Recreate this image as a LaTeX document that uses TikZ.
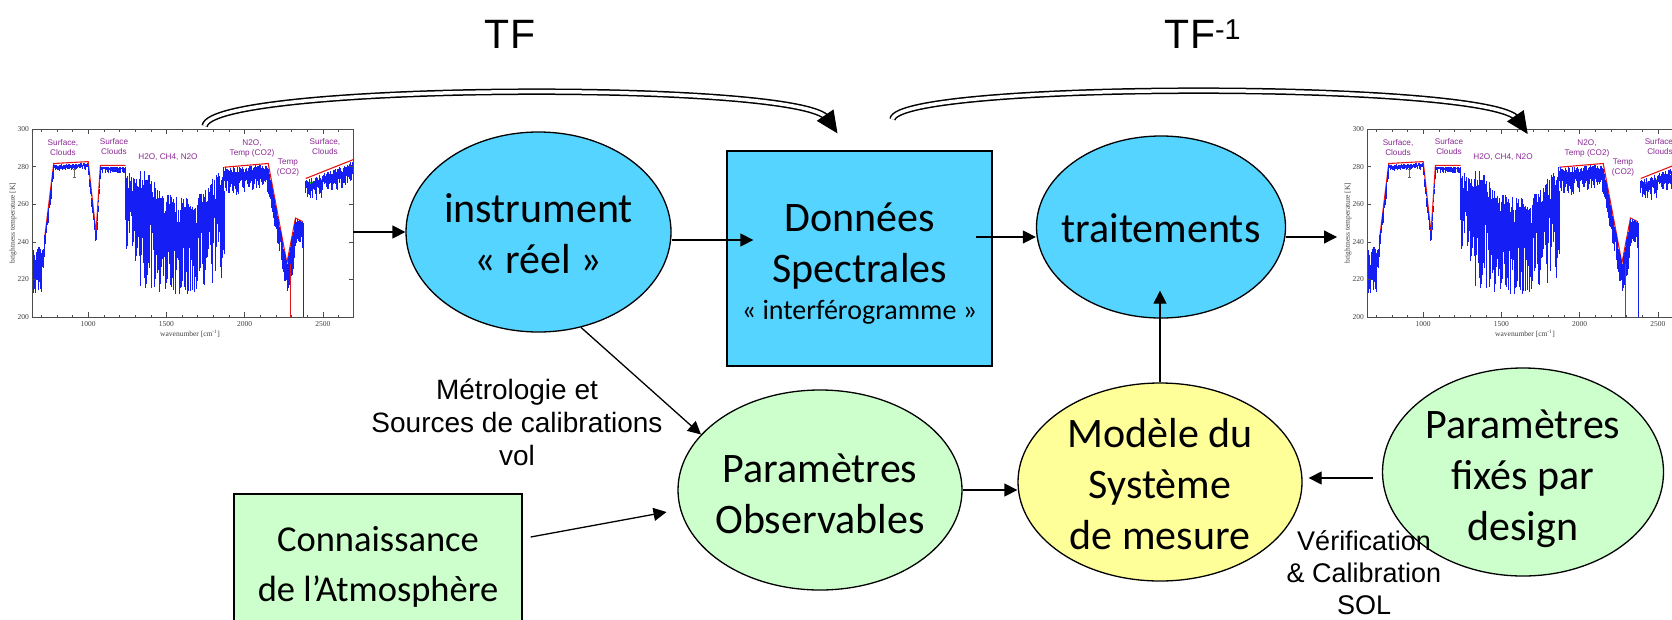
\documentclass[tikz,border=0pt]{standalone}
\usepackage{fontspec}
\setmainfont{Carlito}
\newfontfamily\arialf{Liberation Sans}
\newfontfamily\timesf{Liberation Serif}
\usetikzlibrary{arrows.meta,shapes.geometric,calc}
\definecolor{nodeblue}{RGB}{85,212,255}
\definecolor{nodegreen}{RGB}{204,255,204}
\definecolor{nodeyellow}{RGB}{255,255,153}
\definecolor{specblue}{RGB}{20,30,245}
\definecolor{specpurple}{RGB}{140,40,150}
\definecolor{specred}{RGB}{230,20,20}
\tikzset{
  shapebase/.style={draw=black, line width=1.3pt, inner sep=0pt},
  ell/.style={shapebase, ellipse},
  boxnode/.style={shapebase, rectangle},
  txt/.style={align=center, inner sep=0pt, font=\fontsize{42}{51}\selectfont},
  arr/.style={line width=1.3pt, -{Triangle[length=13pt,width=13pt]}},
  dbl/.style={line width=1.5pt, double=white, double distance=3.5pt},
  bigtip/.style={line width=1pt, -{Triangle[length=22pt,width=20pt]}},
  lbl/.style={font=\arialf\fontsize{28}{33}\selectfont, align=center, inner sep=0pt},
  smalllbl/.style={font=\arialf\fontsize{27}{32}\selectfont, align=center, inner sep=0pt},
  tflbl/.style={font=\arialf\fontsize{41}{48}\selectfont, inner sep=0pt},
  plotframe/.style={draw=none, inner sep=0pt, minimum width=321pt, minimum height=188pt, anchor=north west},
  ticklab/.style={font=\timesf\fontsize{7.5}{8}\selectfont, text=black!75, inner sep=0pt},
  region/.style={font=\arialf\fontsize{8.2}{10}\selectfont, text=specpurple, align=center, inner sep=0pt},
}
\newcommand\specplot[1]{%
  \begin{scope}
    \clip (0,0) rectangle (321,188);
    \draw[green!70!black, line width=1.5pt] (273.7,55) -- (321,44);
    \draw[specred, line width=1.1pt] (12.68,108.6) -- (21.75,34.5) -- (56.18,32.6) -- (64.0,104.0) -- (68.4,36.3) -- (93.7,36.3);
    \draw[specred, line width=1.1pt] (192.3,38.2) -- (236.2,34.5) -- (254.9,134.1) -- (263.5,89.0) -- (270.9,92.7);
    \draw[specred, line width=1.1pt] (273.7,49.5) -- (321,30.7);
    \pgfmathsetseed{11}
    \foreach \wA/\tA/\wB/\tB/\dA/\jA in {641/238/700/238/24/14, 700/234/722/244/12/6, 722/244/780/281/7/2, 780/281/1000/282/3/1, 1000/282/1050/244/5/2, 1050/244/1078/280/5/2, 1078/280/1240/280/3/1, 1240/281/1330/274/42/12, 1330/281/1500/266/54/18, 1500/266/1700/262/50/16, 1700/266/1870/280/44/14, 1870/280/2150/281/12/4, 2150/281/2270/228/14/3, 2270/229/2325/253/20/3, 2325/253/2372/251/12/3, 2390/273/2692/283/9/4}{%
      \pgfmathtruncatemacro\nn{(\wB-\wA)/3}
      \foreach \i in {0,...,\nn}{%
        \pgfmathsetmacro\spX{(\wA+3*\i-641)*0.1565}
        \pgfmathsetmacro\spT{\tA+(\tB-\tA)*\i/\nn-\jA*rnd}
        \pgfmathsetmacro\spB{max(\spT-\dA*(0.25+0.75*rnd),212+5*rnd)}
        \draw[specblue, line width=0.55pt] (\spX,{(300-\spT)*1.88}) -- (\spX,{(300-\spB)*1.88});
      }
    }
    \draw[specblue, line width=1.4pt] (271.4,94) -- (271.4,188);
    \draw[specred, line width=0.6pt] (258.2,135) -- (258.2,188);
  \end{scope}
  \draw[black!60, line width=0.5pt] (42,40) -- (42,48) (40.5,40) -- (43.5,40) (40.5,48) -- (43.5,48);
  \draw[black!70, line width=0.6pt] (0,0) rectangle (321,188);
  \foreach \w in {700,800,...,2600}{%
    \draw[black!70, line width=0.5pt] ({(\w-641)*0.1565},188) -- ({(\w-641)*0.1565},185.5)
      ({(\w-641)*0.1565},0) -- ({(\w-641)*0.1565},2.5);
  }
  \foreach \w/\k in {1000/a,1500/b,2000/c,2500/d}{%
    \draw[black!70, line width=0.5pt] ({(\w-641)*0.1565},188) -- ({(\w-641)*0.1565},183)
      ({(\w-641)*0.1565},0) -- ({(\w-641)*0.1565},5);
    \node[ticklab, anchor=north] (#1-x\k) at ({(\w-641)*0.1565},192) {\w};
  }
  \foreach \k in {0,...,5}{%
    \pgfmathtruncatemacro\yv{300-20*\k}
    \draw[black!70, line width=0.5pt] (0,{\k*37.6}) -- (4,{\k*37.6}) (321,{\k*37.6}) -- (317,{\k*37.6});
    \node[ticklab, anchor=east] (#1-y\k) at (-3,{\k*37.6}) {\yv};
  }
  \node[ticklab, rotate=90] (#1-ylab) at (-19,94) {brightness temperature [K]};
  \node[ticklab] (#1-xlab) at (158,205) {wavenumber [cm\textsuperscript{-1}]};
  \node[region] (#1-r1) at (31,19) {Surface,\\Clouds};
  \node[region] (#1-r2) at (82,18) {Surface\\Clouds};
  \node[region] (#1-r3) at (136,28) {H2O, CH4, N2O};
  \node[region] (#1-r4) at (220,19) {N2O,\\Temp (CO2)};
  \node[region] (#1-r5) at (256,39) {Temp\\(CO2)};
  \node[region] (#1-r6) at (293,18) {Surface,\\Clouds};
}
\begin{document}
\begin{tikzpicture}[x=1pt,y=-1pt]
\useasboundingbox (0,0) rectangle (1672,619);
\fill[white] (0,0) rectangle (1672,619);

% spectra
\node[plotframe] (specL) at (32,129) {};
\node[plotframe] (specR) at (1367,129) {};
\begin{scope}[xshift=32pt,yshift=-129pt]
  \specplot{L}
\end{scope}
\begin{scope}
  \clip (0,0) rectangle (1672,619);
  \begin{scope}[xshift=1367pt,yshift=-129pt]
    \specplot{R}
  \end{scope}
\end{scope}

% main shapes
\node[ell, fill=nodeblue, minimum width=265pt, minimum height=200pt] (instr) at (538.5,232) {};
\node[txt] (instrT) at (538.5,234) {instrument\\« réel »};
\node[boxnode, fill=nodeblue, minimum width=265pt, minimum height=215pt] (donnees) at (859.5,258.5) {};
\node[txt] (donneesT) at (859.5,264)
  {Données\\Spectrales\\[-14pt]{\fontsize{28}{34}\selectfont « interférogramme »}};
\node[ell, fill=nodeblue, minimum width=249pt, minimum height=182pt] (trait) at (1161,227) {};
\node[txt] (traitT) at (1161,228) {traitements};
\node[ell, fill=nodegreen, minimum width=284pt, minimum height=200pt] (obs) at (820,490) {};
\node[txt] (obsT) at (820,494) {Paramètres\\Observables};
\node[ell, fill=nodeyellow, minimum width=284pt, minimum height=198pt] (modele) at (1160,482) {};
\node[txt] (modeleT) at (1160,484) {Modèle du\\Système\\de mesure};
\node[ell, fill=nodegreen, minimum width=281pt, minimum height=208pt] (fixes) at (1523,472) {};
\node[txt] (fixesT) at (1523,479) {Paramètres\\fixés par\\design};
\node[boxnode, fill=nodegreen, minimum width=288pt, minimum height=138pt] (conn) at (378,563) {};
\node[txt, font=\fontsize{36.5}{50}\selectfont] (connT) at (378,567) {Connaissance\\de l’Atmosphère};

% labels
\node[tflbl] (tf) at (510,34) {TF};
\node[tflbl] (tfinv) at (1203,34) {TF\textsuperscript{-1}};
\node[lbl] (metro) at (517,422) {Métrologie et\\Sources de calibrations\\vol};
\node[smalllbl] (verif) at (1364,573) {Vérification\\\& Calibration\\SOL};

% connectors
\draw[arr] (specL.east |- instr.west) -- (instr.west);
\draw[arr, shorten >=-27pt] ($(instr.east)+(0,8)$) -- ($(instr.east -| donnees.west)+(0,8)$);
\draw[arr, shorten <=-17pt] ($(donnees.east |- trait.west)+(0,10)$) -- ($(trait.west)+(0,10)$);
\draw[arr, shorten >=30pt] ($(trait.east)+(0,10)$) -- ($(trait.east -| specR.west)+(0,10)$);
\draw[arr, shorten >=-28pt] (modele.north) -- (modele.north |- trait.south);
\draw[arr] (obs.east) -- (obs.east -| modele.west);
\draw[arr, shorten <=9pt, shorten >=6pt] ($(fixes.west)+(0,6)$) -- ($(fixes.west -| modele.east)+(0,6)$);
\draw[arr] (instr.-66) -- (obs.155);
\draw[arr, shorten >=11pt] ($(conn.east)+(8,-26)$) -- ($(obs.west)+(0,20)$);

% TF arcs
\coordinate (tfAs) at ([xshift=12pt,yshift=3pt]specL.north);
\coordinate (tfAe) at ([xshift=-22pt,yshift=17pt]donnees.north);
\coordinate (tfAc) at ($(tfAe)+(-36,-53)$);
\draw[dbl, shorten >=18pt] (tfAs) .. controls +(5,-43) and (tfAc) .. (tfAe);
\draw[bigtip] ($(tfAe)!22pt!(tfAc)$) -- (tfAe);
\coordinate (tfBs) at ([xshift=33pt,yshift=31pt]donnees.north);
\coordinate (tfBe) at ([yshift=-5pt]specR.north);
\coordinate (tfBc) at ($(tfBe)+(-36,-53)$);
\draw[dbl, shorten >=18pt] (tfBs) .. controls +(4,-38) and (tfBc) .. (tfBe);
\draw[bigtip] ($(tfBe)!22pt!(tfBc)$) -- (tfBe);
\end{tikzpicture}
\end{document}
